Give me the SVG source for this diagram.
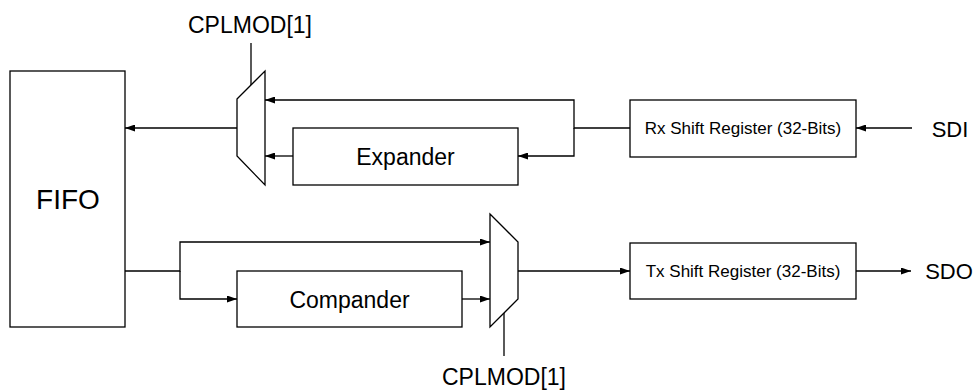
<svg xmlns="http://www.w3.org/2000/svg" width="976" height="390" viewBox="0 0 976 390">
<style>
.box{fill:#fff;stroke:#000;stroke-width:1.3}
.ln{fill:none;stroke:#000;stroke-width:1.3}
.ar{marker-end:url(#ah)}
text{font-family:"Liberation Sans",Arial,sans-serif;fill:#000;text-anchor:middle}
</style>
<defs>
<marker id="ah" markerWidth="10" markerHeight="7" refX="10" refY="3.5" orient="auto" markerUnits="userSpaceOnUse">
<path d="M0,0 L10,3.5 L0,7 Z" fill="#000"/>
</marker>
</defs>
<g id="connectors">
<line class="ln ar" x1="237" y1="128" x2="125" y2="128"/>
<polyline class="ln ar" points="630,128 574,128 574,100 265,100"/>
<polyline class="ln ar" points="574,128 574,156 518,156"/>
<line class="ln ar" x1="293" y1="156" x2="265" y2="156"/>
<line class="ln ar" x1="912" y1="128" x2="856" y2="128"/>
<line class="ln" x1="251" y1="43" x2="251" y2="85"/>
<polyline class="ln ar" points="125,271 180,271 180,242 490,242"/>
<polyline class="ln ar" points="180,271 180,299 237,299"/>
<line class="ln ar" x1="462" y1="299" x2="490" y2="299"/>
<line class="ln ar" x1="518" y1="271" x2="630" y2="271"/>
<line class="ln ar" x1="856" y1="271" x2="911" y2="271"/>
<line class="ln" x1="504" y1="313" x2="504" y2="356"/>
</g>
<g id="fifo">
<rect class="box" x="10" y="71" width="115" height="256"/>
<text x="68" y="209" font-size="28">FIFO</text>
</g>
<g id="mux-rx">
<polygon class="box" points="237,99 265,71 265,185 237,156"/>
</g>
<g id="sel-rx">
<text x="250" y="33" font-size="23">CPLMOD[1]</text>
</g>
<g id="expander">
<rect class="box" x="293" y="128" width="225" height="57"/>
<text x="405.5" y="165" font-size="23">Expander</text>
</g>
<g id="rx-shift">
<rect class="box" x="630" y="100" width="226" height="57"/>
<text x="743" y="134" font-size="17">Rx Shift Register (32-Bits)</text>
</g>
<g id="sdi">
<text x="950" y="137" font-size="22">SDI</text>
</g>
<g id="mux-tx">
<polygon class="box" points="490,214 518,242 518,299 490,327"/>
</g>
<g id="compander">
<rect class="box" x="237" y="271" width="225" height="56"/>
<text x="349.5" y="308" font-size="23">Compander</text>
</g>
<g id="tx-shift">
<rect class="box" x="630" y="243" width="226" height="56"/>
<text x="743" y="277" font-size="17">Tx Shift Register (32-Bits)</text>
</g>
<g id="sdo">
<text x="949" y="279" font-size="22">SDO</text>
</g>
<g id="sel-tx">
<text x="504" y="385" font-size="23">CPLMOD[1]</text>
</g>
</svg>
